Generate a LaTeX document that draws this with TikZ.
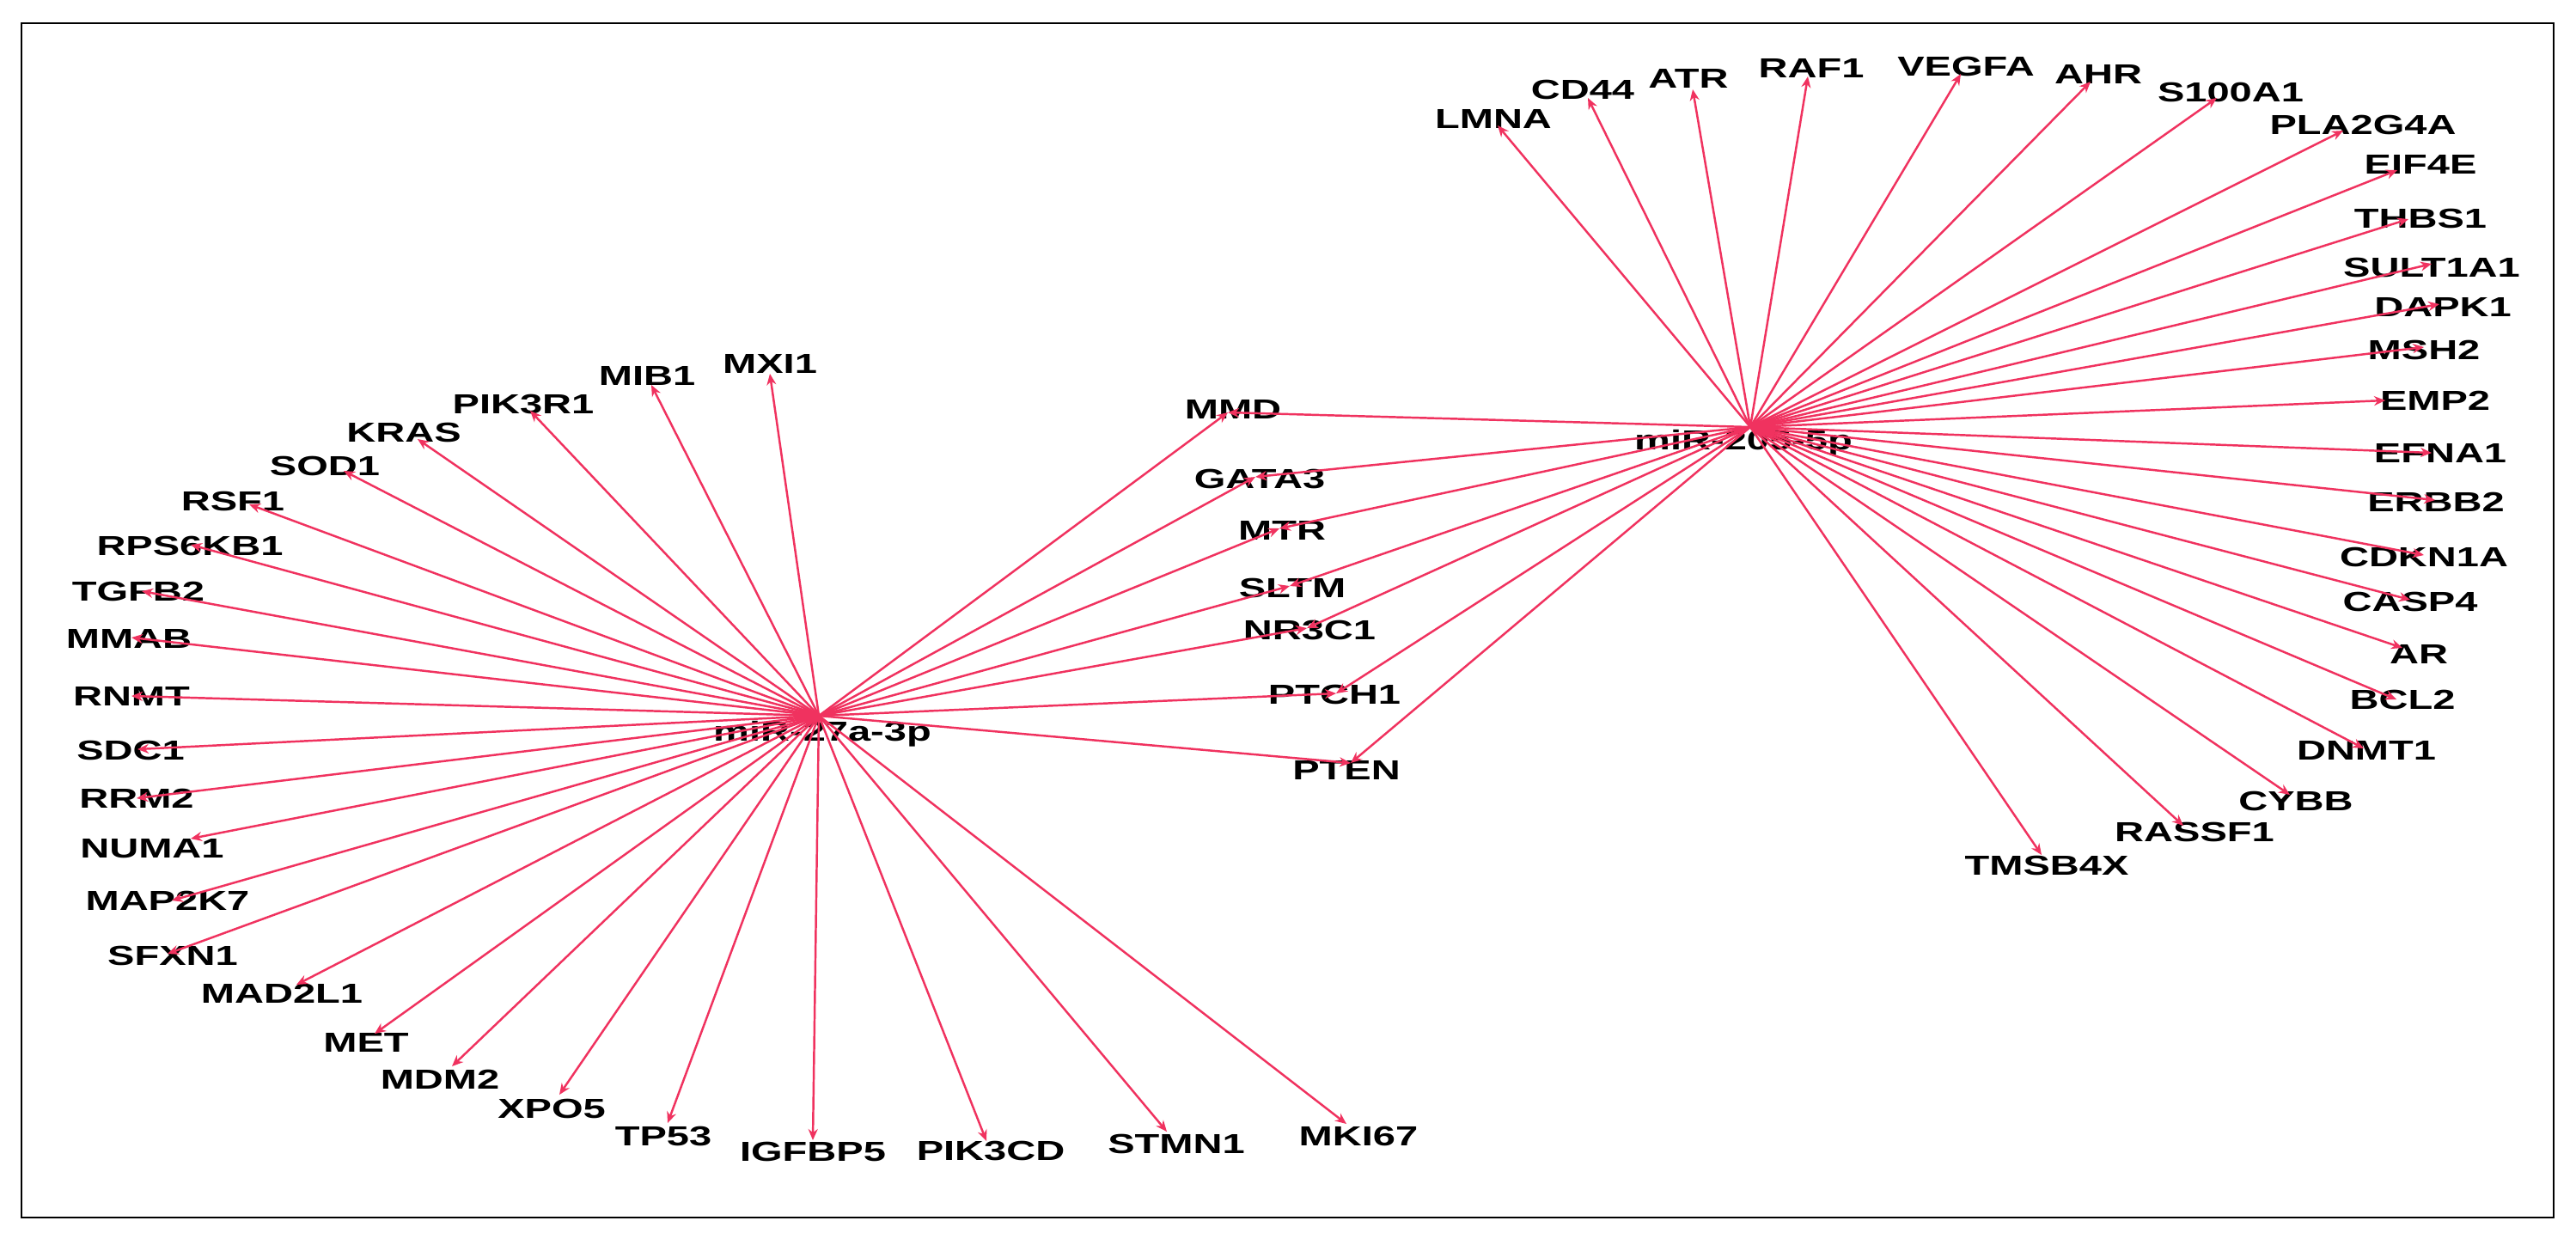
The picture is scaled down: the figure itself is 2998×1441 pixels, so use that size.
\documentclass[tikz,border=0pt]{standalone}
\usepackage{fontspec}
\usepackage{tikz}
\usetikzlibrary{arrows.meta}
\newfontfamily\genefont{Liberation Sans}[FakeStretch=1.47]
\definecolor{linkred}{RGB}{240,50,95}
\tikzset{
    gene/.style={font=\genefont\bfseries\fontsize{9.1}{11}\selectfont, inner sep=0pt, text=black},
    link/.style={draw=linkred, line width=0.7pt, -{Stealth[length=1.3mm,width=1.1mm]}}
}

\begin{document}
\begin{tikzpicture}[x=0.01cm, y=-0.01cm]
    \fill [white] (0,0) rectangle (2998,1441);
    \useasboundingbox (0,0) rectangle (2998,1441);
    \draw [line width=0.8pt] (25,27) rectangle (2972,1417);
    % the two miRNAs
    \coordinate (A) at (953,833);
    \coordinate (B) at (2037,497);
    \node [gene] (lA) at (957,854) {miR-27a-3p};
    \node [gene] (lB) at (2029,515) {miR-205-5p};
    % targets of miR-27a-3p
    \coordinate (MXI1) at (896,435);     \node [gene] (lMXI1) at (896,423) {MXI1};
    \coordinate (MIB1) at (758,448);     \node [gene] (lMIB1) at (753,437) {MIB1};
    \coordinate (PIK3R1) at (617,478);   \node [gene] (lPIK3R1) at (609,470) {PIK3R1};
    \coordinate (KRAS) at (486,511);     \node [gene] (lKRAS) at (470,503) {KRAS};
    \coordinate (SOD1) at (400,548);     \node [gene] (lSOD1) at (378,542) {SOD1};
    \coordinate (RSF1) at (290,587);     \node [gene] (lRSF1) at (271,583) {RSF1};
    \coordinate (RPS6KB1) at (222,634);  \node [gene] (lRPS6KB1) at (221,635) {RPS6KB1};
    \coordinate (TGFB2) at (165,688);    \node [gene] (lTGFB2) at (161,688) {TGFB2};
    \coordinate (MMAB) at (153,742);     \node [gene] (lMMAB) at (150,743) {MMAB};
    \coordinate (RNMT) at (153,810);     \node [gene] (lRNMT) at (153,810) {RNMT};
    \coordinate (SDC1) at (160,872);     \node [gene] (lSDC1) at (152,873) {SDC1};
    \coordinate (RRM2) at (159,929);     \node [gene] (lRRM2) at (159,929) {RRM2};
    \coordinate (NUMA1) at (222,976);    \node [gene] (lNUMA1) at (177,988) {NUMA1};
    \coordinate (MAP2K7) at (200,1048);  \node [gene] (lMAP2K7) at (195,1048) {MAP2K7};
    \coordinate (SFXN1) at (195,1110);   \node [gene] (lSFXN1) at (201,1112) {SFXN1};
    \coordinate (MAD2L1) at (345,1146);  \node [gene] (lMAD2L1) at (328,1156) {MAD2L1};
    \coordinate (MET) at (436,1203);     \node [gene] (lMET) at (426,1213) {MET};
    \coordinate (MDM2) at (526,1241);    \node [gene] (lMDM2) at (512,1256) {MDM2};
    \coordinate (XPO5) at (651,1274);    \node [gene] (lXPO5) at (642,1290) {XPO5};
    \coordinate (TP53) at (777,1307);    \node [gene] (lTP53) at (772,1322) {TP53};
    \coordinate (IGFBP5) at (946,1327);  \node [gene] (lIGFBP5) at (946,1340) {IGFBP5};
    \coordinate (PIK3CD) at (1148,1328); \node [gene] (lPIK3CD) at (1153,1339) {PIK3CD};
    \coordinate (STMN1) at (1358,1317);  \node [gene] (lSTMN1) at (1369,1331) {STMN1};
    \coordinate (MKI67) at (1567,1308);  \node [gene] (lMKI67) at (1581,1322) {MKI67};
    % shared targets
    \coordinate (MMD) at (1429,480);     \node [gene] (lMMD) at (1435,476) {MMD};
    \coordinate (GATA3) at (1461,555);   \node [gene] (lGATA3) at (1466,557) {GATA3};
    \coordinate (MTR) at (1489,615);     \node [gene] (lMTR) at (1492,617) {MTR};
    \coordinate (SLTM) at (1501,682);    \node [gene] (lSLTM) at (1504,684) {SLTM};
    \coordinate (NR3C1) at (1521,731);   \node [gene] (lNR3C1) at (1524,733) {NR3C1};
    \coordinate (PTCH1) at (1555,807);   \node [gene] (lPTCH1) at (1553,808) {PTCH1};
    \coordinate (PTEN) at (1572,888);    \node [gene] (lPTEN) at (1567,896) {PTEN};
    % targets of miR-205-5p
    \coordinate (LMNA) at (1743,146);    \node [gene] (lLMNA) at (1738,138) {LMNA};
    \coordinate (CD44) at (1848,114);    \node [gene] (lCD44) at (1842,104) {CD44};
    \coordinate (ATR) at (1970,104);     \node [gene] (lATR) at (1965,91) {ATR};
    \coordinate (RAF1) at (2104,89);     \node [gene] (lRAF1) at (2108,79) {RAF1};
    \coordinate (VEGFA) at (2282,86);    \node [gene] (lVEGFA) at (2288,77) {VEGFA};
    \coordinate (AHR) at (2433,95);      \node [gene] (lAHR) at (2442,86) {AHR};
    \coordinate (S100A1) at (2580,114);  \node [gene] (lS100A1) at (2596,107) {S100A1};
    \coordinate (PLA2G4A) at (2727,152); \node [gene] (lPLA2G4A) at (2750,145) {PLA2G4A};
    \coordinate (EIF4E) at (2790,198);   \node [gene] (lEIF4E) at (2817,191) {EIF4E};
    \coordinate (THBS1) at (2803,255);   \node [gene] (lTHBS1) at (2817,254) {THBS1};
    \coordinate (SULT1A1) at (2830,307); \node [gene] (lSULT1A1) at (2830,311) {SULT1A1};
    \coordinate (DAPK1) at (2839,354);   \node [gene] (lDAPK1) at (2843,357) {DAPK1};
    \coordinate (MSH2) at (2821,404);    \node [gene] (lMSH2) at (2821,407) {MSH2};
    \coordinate (EMP2) at (2776,466);    \node [gene] (lEMP2) at (2834,466) {EMP2};
    \coordinate (EFNA1) at (2830,527);   \node [gene] (lEFNA1) at (2840,527) {EFNA1};
    \coordinate (ERBB2) at (2834,582);   \node [gene] (lERBB2) at (2835,584) {ERBB2};
    \coordinate (CDKN1A) at (2821,646);  \node [gene] (lCDKN1A) at (2821,648) {CDKN1A};
    \coordinate (CASP4) at (2805,698);   \node [gene] (lCASP4) at (2805,700) {CASP4};
    \coordinate (AR) at (2796,754);      \node [gene] (lAR) at (2815,761) {AR};
    \coordinate (BCL2) at (2789,814);    \node [gene] (lBCL2) at (2796,814) {BCL2};
    \coordinate (DNMT1) at (2751,871);   \node [gene] (lDNMT1) at (2754,873) {DNMT1};
    \coordinate (CYBB) at (2665,925);    \node [gene] (lCYBB) at (2672,932) {CYBB};
    \coordinate (RASSF1) at (2541,961);  \node [gene] (lRASSF1) at (2554,968) {RASSF1};
    \coordinate (TMSB4X) at (2376,995);  \node [gene] (lTMSB4X) at (2382,1007) {TMSB4X};
    % links
    \draw [link] (A) -- (MXI1);
    \draw [link] (A) -- (MIB1);
    \draw [link] (A) -- (PIK3R1);
    \draw [link] (A) -- (KRAS);
    \draw [link] (A) -- (SOD1);
    \draw [link] (A) -- (RSF1);
    \draw [link] (A) -- (RPS6KB1);
    \draw [link] (A) -- (TGFB2);
    \draw [link] (A) -- (MMAB);
    \draw [link] (A) -- (RNMT);
    \draw [link] (A) -- (SDC1);
    \draw [link] (A) -- (RRM2);
    \draw [link] (A) -- (NUMA1);
    \draw [link] (A) -- (MAP2K7);
    \draw [link] (A) -- (SFXN1);
    \draw [link] (A) -- (MAD2L1);
    \draw [link] (A) -- (MET);
    \draw [link] (A) -- (MDM2);
    \draw [link] (A) -- (XPO5);
    \draw [link] (A) -- (TP53);
    \draw [link] (A) -- (IGFBP5);
    \draw [link] (A) -- (PIK3CD);
    \draw [link] (A) -- (STMN1);
    \draw [link] (A) -- (MKI67);
    \draw [link] (A) -- (MMD);
    \draw [link] (A) -- (GATA3);
    \draw [link] (A) -- (MTR);
    \draw [link] (A) -- (SLTM);
    \draw [link] (A) -- (NR3C1);
    \draw [link] (A) -- (PTCH1);
    \draw [link] (A) -- (PTEN);
    \draw [link] (B) -- (MMD);
    \draw [link] (B) -- (GATA3);
    \draw [link] (B) -- (MTR);
    \draw [link] (B) -- (SLTM);
    \draw [link] (B) -- (NR3C1);
    \draw [link] (B) -- (PTCH1);
    \draw [link] (B) -- (PTEN);
    \draw [link] (B) -- (LMNA);
    \draw [link] (B) -- (CD44);
    \draw [link] (B) -- (ATR);
    \draw [link] (B) -- (RAF1);
    \draw [link] (B) -- (VEGFA);
    \draw [link] (B) -- (AHR);
    \draw [link] (B) -- (S100A1);
    \draw [link] (B) -- (PLA2G4A);
    \draw [link] (B) -- (EIF4E);
    \draw [link] (B) -- (THBS1);
    \draw [link] (B) -- (SULT1A1);
    \draw [link] (B) -- (DAPK1);
    \draw [link] (B) -- (MSH2);
    \draw [link] (B) -- (EMP2);
    \draw [link] (B) -- (EFNA1);
    \draw [link] (B) -- (ERBB2);
    \draw [link] (B) -- (CDKN1A);
    \draw [link] (B) -- (CASP4);
    \draw [link] (B) -- (AR);
    \draw [link] (B) -- (BCL2);
    \draw [link] (B) -- (DNMT1);
    \draw [link] (B) -- (CYBB);
    \draw [link] (B) -- (RASSF1);
    \draw [link] (B) -- (TMSB4X);
\end{tikzpicture}
\end{document}
